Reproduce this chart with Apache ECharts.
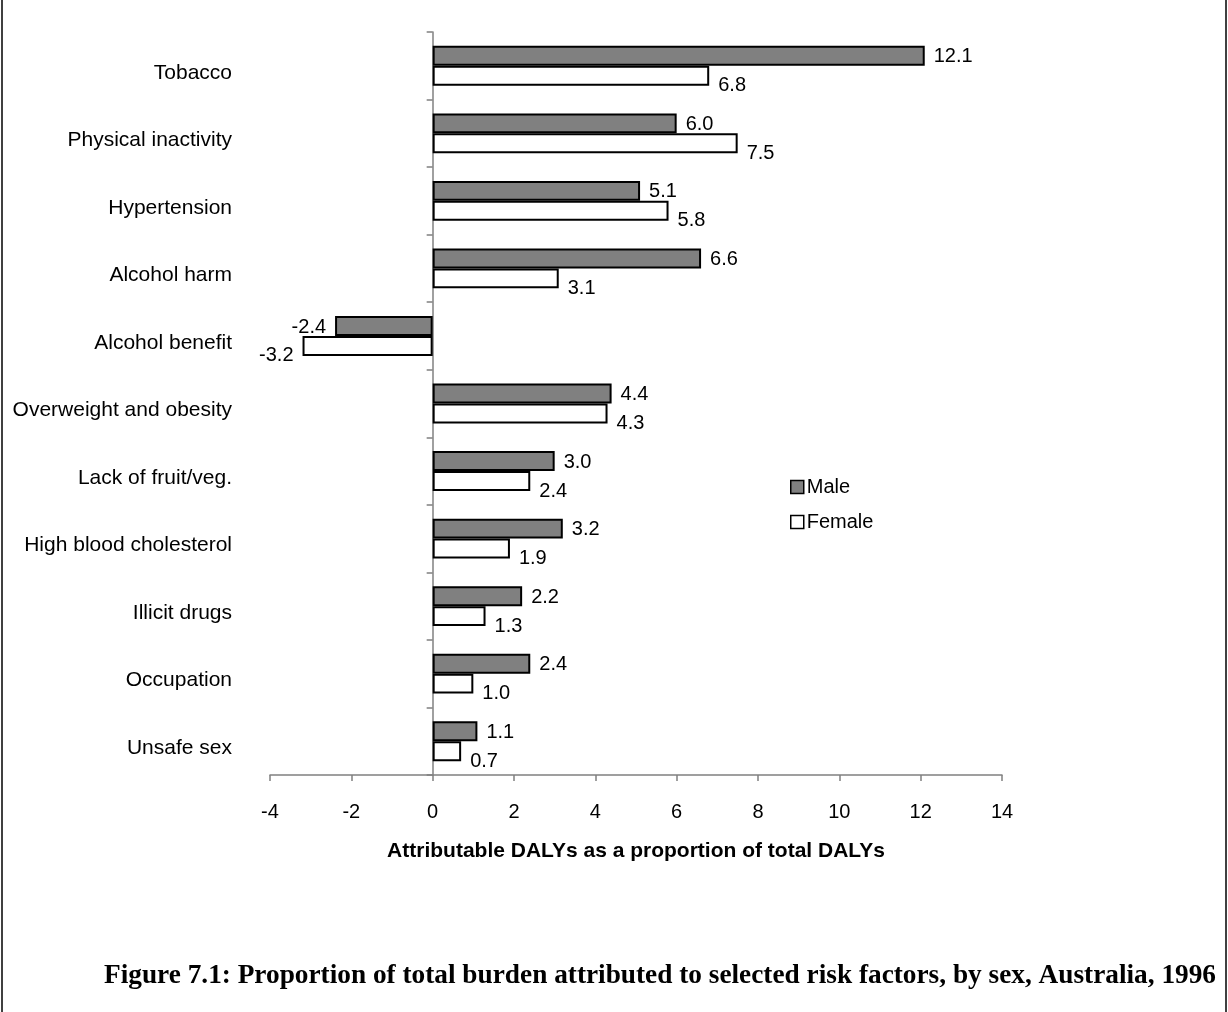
<!DOCTYPE html>
<html>
<head>
<meta charset="utf-8">
<title>Proportion of total burden attributed to selected risk factors</title>
<script src="https://cdn.jsdelivr.net/npm/echarts@6/dist/echarts.min.js"></script>
<style>
  html, body { margin: 0; padding: 0; background: #fff; }
  #chart { width: 1228px; height: 1012px; }
</style>
</head>
<body>
<div id="chart"></div>
<script>
// Risk factors, top to bottom
const categories = [
  'Tobacco', 'Physical inactivity', 'Hypertension', 'Alcohol harm', 'Alcohol benefit',
  'Overweight and obesity', 'Lack of fruit/veg.', 'High blood cholesterol',
  'Illicit drugs', 'Occupation', 'Unsafe sex'
];
// Attributable DALYs as % of total DALYs
const maleValues   = [12.1, 6.0, 5.1, 6.6, -2.4, 4.4, 3.0, 3.2, 2.2, 2.4, 1.1];
const femaleValues = [6.8, 7.5, 5.8, 3.1, -3.2, 4.3, 2.4, 1.9, 1.3, 1.0, 0.7];
const xTicks = { min: -4, max: 14, interval: 2 };

const FONT = 'Liberation Sans, Arial, sans-serif';

// Value label sits on the outer end of each bar (left side for negatives)
function withLabels(values, dy) {
  return values.map(v => ({
    value: v,
    label: {
      position: v < 0 ? 'left' : 'right',
      offset: [0, dy]
    }
  }));
}

const chart = echarts.init(document.getElementById('chart'), null, { renderer: 'canvas' });

chart.setOption({
  animation: false,
  backgroundColor: '#ffffff',
  grid: {
    left: 270, right: 226, top: 32, bottom: 237,
    containLabel: false,
    outerBoundsMode: 'none'
  },
  legend: {
    orient: 'vertical',
    left: 785,
    top: 472,
    icon: 'rect',
    itemWidth: 13,
    itemHeight: 13,
    itemGap: 15,
    textStyle: { fontFamily: FONT, fontSize: 20, color: '#000', padding: [0, 0, 0, -2] },
    data: [
      { name: 'Male', itemStyle: { color: '#808080', borderColor: '#000', borderWidth: 1.5 } },
      { name: 'Female', itemStyle: { color: '#ffffff', borderColor: '#000', borderWidth: 1.5 } }
    ]
  },
  xAxis: {
    type: 'value',
    min: xTicks.min,
    max: xTicks.max,
    interval: xTicks.interval,
    name: 'Attributable DALYs as a proportion of total DALYs',
    nameLocation: 'middle',
    nameGap: 66,
    nameTextStyle: { fontFamily: FONT, fontSize: 21, fontWeight: 'bold', color: '#000' },
    axisLine: { show: true, lineStyle: { color: '#808080', width: 1.5 } },
    axisTick: { show: true, inside: false, length: 6, lineStyle: { color: '#808080', width: 1.5 } },
    axisLabel: { fontFamily: FONT, fontSize: 20, color: '#000', margin: 27 },
    splitLine: { show: false }
  },
  yAxis: {
    type: 'category',
    data: categories,
    inverse: true,
    axisLine: { show: true, onZero: true, lineStyle: { color: '#808080', width: 1.5 } },
    axisTick: { show: true, inside: false, length: 6, lineStyle: { color: '#808080', width: 1.5 } },
    axisLabel: {
      fontFamily: FONT, fontSize: 21, color: '#000',
      margin: 38, align: 'right', verticalAlign: 'top', lineHeight: 14
    },
    splitLine: { show: false }
  },
  series: [
    {
      name: 'Male',
      type: 'bar',
      data: withLabels(maleValues, 1),
      barGap: '0%',
      barCategoryGap: '41%',
      itemStyle: { color: '#808080', borderColor: '#000', borderWidth: 2 },
      label: {
        show: true,
        distance: 9,
        fontFamily: FONT, fontSize: 20, color: '#000',
        formatter: p => p.value.toFixed(1)
      }
    },
    {
      name: 'Female',
      type: 'bar',
      data: withLabels(femaleValues, 10),
      barGap: '0%',
      barCategoryGap: '41%',
      itemStyle: { color: '#ffffff', borderColor: '#000', borderWidth: 2 },
      label: {
        show: true,
        distance: 9,
        fontFamily: FONT, fontSize: 20, color: '#000',
        formatter: p => p.value.toFixed(1)
      }
    }
  ],
  graphic: [
    // side rules of the figure frame
    { type: 'line', shape: { x1: 2, y1: 0, x2: 2, y2: 1012 }, style: { stroke: '#000', lineWidth: 1.5 } },
    { type: 'line', shape: { x1: 1226, y1: 0, x2: 1226, y2: 1012 }, style: { stroke: '#000', lineWidth: 1.5 } },
    {
      type: 'text',
      x: 660, y: 976,
      style: {
        text: 'Figure 7.1: Proportion of total burden attributed to selected risk factors, by sex, Australia, 1996',
        fontFamily: 'Liberation Serif, Times New Roman, serif',
        fontWeight: 'bold',
        fontSize: 27.3,
        fill: '#000',
        align: 'center',
        verticalAlign: 'middle'
      }
    }
  ]
});
</script>
</body>
</html>
